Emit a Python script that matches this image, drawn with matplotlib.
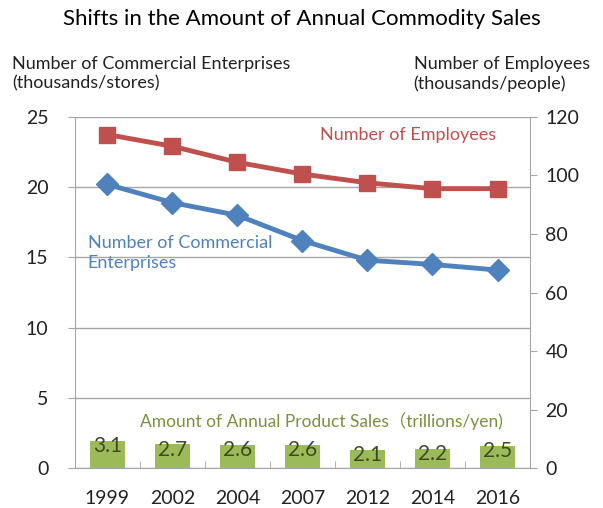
import matplotlib.pyplot as plt
import numpy as np

plt.rcParams['font.family'] = ['Lato', 'DejaVu Sans']

# values
years = ['1999', '2002', '2004', '2007', '2012', '2014', '2016']
enterprises = [20.2, 18.9, 18.0, 16.2, 14.8, 14.5, 14.1]      # thousands of stores (left axis)
employees = [114.0, 110.0, 104.5, 100.5, 97.5, 95.5, 95.5]     # thousands of people (right axis)
sales = [3.1, 2.7, 2.6, 2.6, 2.1, 2.2, 2.5]                    # trillions of yen

red = '#C0504D'
blue = '#4F81BD'
green = '#9BBB59'
grid_c = '#A6A6A6'

x = np.arange(len(years))

fig = plt.figure(figsize=(6.03, 5.08), dpi=100)
ax = fig.add_axes([0.124, 0.0787, 0.755, 0.691])
ax_bar = ax.twinx()
ax_r = ax.twinx()

# sales bars on a hidden axis
ax_bar.bar(x, sales, width=0.53, color=green, zorder=2)
ax_bar.set_ylim(0, 40)
ax_bar.axis('off')
for xi, v in zip(x, sales):
    ax_bar.text(xi, v - 0.6, f'{v:.1f}', ha='center', va='center', fontsize=15, color='#3F4A22', zorder=5)
ax_bar.text(3.3, 5.3, 'Amount of Annual Product Sales（trillions/yen)', ha='center', va='center',
            fontsize=12.5, color='#77933C', family=['Lato', 'Noto Sans CJK JP'])

# left axis: commercial enterprises
ax.plot(x, enterprises, color=blue, lw=3.5, marker='D', markersize=11, zorder=4)
ax.set_ylim(0, 25)
ax.set_xlim(-0.5, len(years) - 0.5)
ax.set_yticks([0, 5, 10, 15, 20, 25])
ax.yaxis.grid(True, color=grid_c, lw=1)
ax.set_axisbelow(True)
ax.set_xticks(x)
ax.set_xticklabels(years)
ax.set_xticks(np.arange(len(years) + 1) - 0.5, minor=True)
ax.tick_params(axis='x', which='major', length=0, labelsize=14, pad=16, colors='#222222')
ax.tick_params(axis='x', which='minor', direction='in', length=5, color=grid_c)
ax.tick_params(axis='y', length=5, labelsize=14, pad=14, colors='#222222')
ax.tick_params(axis='y', which='both', color=grid_c)
for s in ['left', 'bottom']:
    ax.spines[s].set_color(grid_c)
ax.spines['top'].set_visible(False)
ax.spines['right'].set_visible(False)

# right axis: employees
ax_r.plot(x, employees, color=red, lw=3.5, marker='s', markersize=12, zorder=4)
ax_r.set_ylim(0, 120)
ax_r.set_yticks([0, 20, 40, 60, 80, 100, 120])
ax_r.tick_params(axis='y', length=5, labelsize=14, pad=6, colors='#222222')
ax_r.tick_params(axis='y', color=grid_c)
ax_r.spines['right'].set_color(grid_c)
for s in ['left', 'top', 'bottom']:
    ax_r.spines[s].set_visible(False)

# series labels
ax.text(3.27, 23.75, 'Number of Employees', color=red, fontsize=13, va='center', ha='left')
ax.text(-0.3, 15.3, 'Number of Commercial\nEnterprises', color=blue, fontsize=13,
        va='center', ha='left', linespacing=1.35)

# titles
fig.text(0.5, 0.963, 'Shifts in the Amount of Annual Commodity Sales', ha='center', va='center', fontsize=16)
fig.text(0.02, 0.855, 'Number of Commercial Enterprises\n(thousands/stores)', ha='left', va='center',
         fontsize=13, linespacing=1.25, color='#222222')
fig.text(0.978, 0.855, 'Number of Employees\n(thousands/people)', ha='right', va='center',
         fontsize=13, linespacing=1.25, color='#222222', multialignment='left')

fig.savefig('out.png', dpi=100)
